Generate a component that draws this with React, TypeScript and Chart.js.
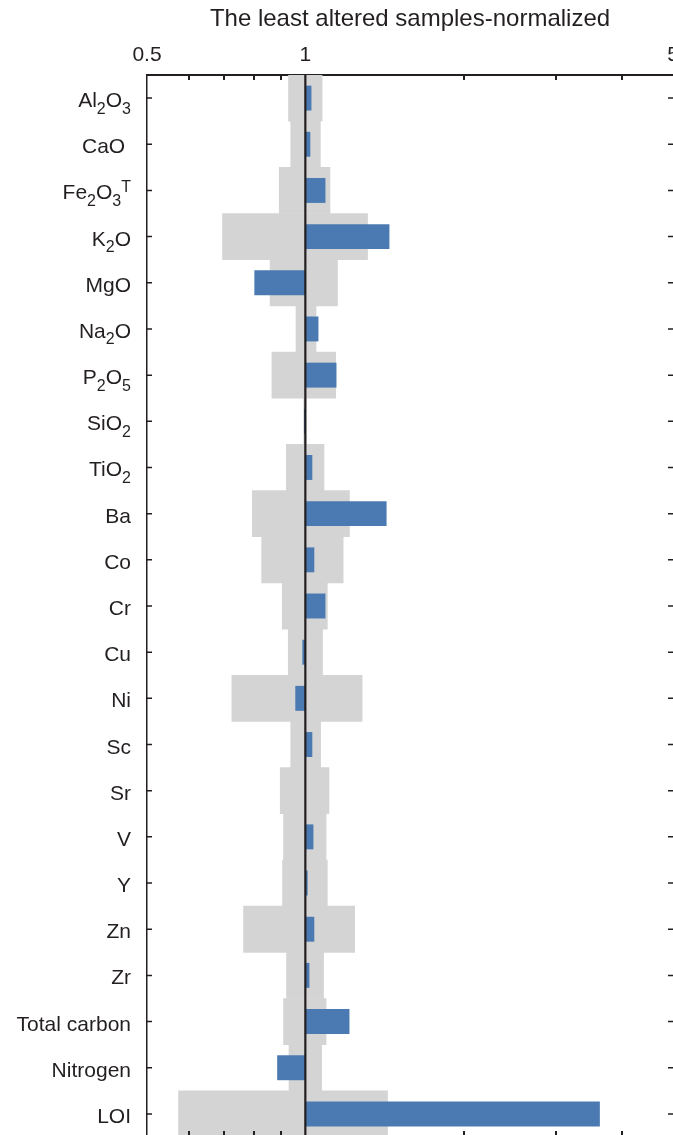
import React, { useEffect, useRef } from "react";
import { Chart, registerables } from "chart.js";

Chart.register(...registerables);

// ---------- data ----------
const categories = [
  "Al₂O₃", "CaO ", "Fe₂O₃ᵀ", "K₂O", "MgO", "Na₂O", "P₂O₅", "SiO₂", "TiO₂",
  "Ba", "Co", "Cr", "Cu", "Ni", "Sc", "Sr", "V", "Y", "Zn", "Zr",
  "Total carbon", "Nitrogen", "LOI",
];

// grey band: range of the least altered samples (normalized)
const rangeMin = [
  0.929, 0.938, 0.892, 0.696, 0.857, 0.960, 0.864, 0.993, 0.920,
  0.793, 0.826, 0.904, 0.928, 0.725, 0.938, 0.896, 0.909, 0.905, 0.763, 0.921,
  0.909, 0.931, 0.574,
];
const rangeMax = [
  1.076, 1.068, 1.114, 1.313, 1.151, 1.048, 1.142, 1.004, 1.085,
  1.213, 1.180, 1.101, 1.078, 1.282, 1.069, 1.109, 1.095, 1.101, 1.241, 1.083,
  1.095, 1.074, 1.433,
];

// blue bar: normalized value of the altered sample
const normalized = [
  1.027, 1.022, 1.092, 1.445, 0.800, 1.059, 1.146, 0.994, 1.031,
  1.427, 1.040, 1.092, 0.987, 0.957, 1.031, 1.000, 1.036, 1.010, 1.040, 1.018,
  1.213, 0.884, 3.63,
];

const majorTicks = [0.5, 1, 5];
const minorTicks = [0.6, 0.7, 0.8, 0.9, 2, 3, 4];
const axisTitle = "The least altered samples-normalized";

// ---------- styling ----------
const FONT = "'Liberation Sans', Arial, Helvetica, sans-serif";
const INK = "#231f20";
const GREY = "#d4d4d4";
const BLUE = "#4a7ab1";

const SUB: Record<string, string> = {
  "₀": "0", "₁": "1", "₂": "2", "₃": "3", "₄": "4",
  "₅": "5", "₆": "6", "₇": "7", "₈": "8", "₉": "9",
};

function drawRichLabel(ctx: CanvasRenderingContext2D, text: string, xRight: number, baseline: number) {
  const runs: { kind: string; text: string; w?: number }[] = [];
  for (const ch of text) {
    let kind = "n";
    let c = ch;
    if (SUB[ch]) { kind = "sub"; c = SUB[ch]; }
    else if (ch === "ᵀ") { kind = "sup"; c = "T"; }
    const last = runs[runs.length - 1];
    if (last && last.kind === kind) last.text += c;
    else runs.push({ kind, text: c });
  }
  const fontFor = (k: string) => (k === "n" ? `21px ${FONT}` : `16px ${FONT}`);
  const dy = (k: string) => (k === "sub" ? 6.5 : k === "sup" ? -7 : 0);
  let total = 0;
  for (const r of runs) {
    ctx.font = fontFor(r.kind);
    r.w = ctx.measureText(r.text).width;
    total += r.w;
  }
  let x = xRight - total;
  ctx.textAlign = "left";
  ctx.textBaseline = "alphabetic";
  ctx.fillStyle = INK;
  for (const r of runs) {
    ctx.font = fontFor(r.kind);
    ctx.fillText(r.text, x, baseline + dy(r.kind));
    x += r.w || 0;
  }
}

const framePlugin = {
  id: "frameDecor",
  afterDatasetsDraw(chart: any) {
    const { ctx, chartArea: a, scales } = chart;
    const x1 = scales.x.getPixelForValue(1);
    ctx.save();
    ctx.strokeStyle = INK;
    ctx.lineWidth = 2.2;
    ctx.beginPath();
    ctx.moveTo(x1, a.top);
    ctx.lineTo(x1, a.bottom);
    ctx.stroke();
    ctx.restore();
  },
  afterDraw(chart: any) {
    const { ctx, chartArea: a, scales } = chart;
    const xs = scales.x;
    const ys = scales.y;
    ctx.save();
    ctx.strokeStyle = INK;
    ctx.lineWidth = 2;
    for (const v of minorTicks) {
      const px = Math.round(xs.getPixelForValue(v));
      ctx.beginPath();
      ctx.moveTo(px, a.top);
      ctx.lineTo(px, a.top + 5);
      ctx.moveTo(px, a.bottom);
      ctx.lineTo(px, a.bottom - 6);
      ctx.stroke();
    }
    ctx.lineWidth = 1.5;
    categories.forEach((c, i) => {
      const py = ys.getPixelForValue(i);
      ctx.beginPath();
      ctx.moveTo(a.left, py);
      ctx.lineTo(a.left + 5, py);
      ctx.moveTo(a.right, py);
      ctx.lineTo(a.right - 5, py);
      ctx.stroke();
      drawRichLabel(ctx, c, 131, py + 9);
    });
    ctx.restore();
  },
};

export default function App() {
  const ref = useRef<HTMLCanvasElement | null>(null);

  useEffect(() => {
    if (!ref.current) return;
    const chart = new Chart(ref.current, {
      type: "bar",
      data: {
        labels: categories,
        datasets: [
          {
            label: "Normalized",
            data: normalized.map((v) => [1, v]),
            backgroundColor: BLUE,
            borderWidth: 0,
            barPercentage: 0.54,
            categoryPercentage: 1,
            grouped: false,
            order: 0,
          } as any,
          {
            label: "Least altered range",
            data: rangeMin.map((v, i) => [v, rangeMax[i]]),
            backgroundColor: GREY,
            borderWidth: 0,
            barPercentage: 1,
            categoryPercentage: 1,
            grouped: false,
            order: 1,
          } as any,
        ],
      },
      options: {
        indexAxis: "y",
        responsive: false,
        animation: false,
        layout: { padding: { top: 0, right: 17, bottom: 3, left: 0 } },
        plugins: {
          legend: { display: false },
          tooltip: { enabled: false },
          title: { display: false },
        },
        scales: {
          x: {
            type: "logarithmic",
            position: "top",
            min: 0.5,
            max: 5,
            afterBuildTicks: (s: any) => {
              s.ticks = majorTicks.map((v) => ({ value: v }));
            },
            afterFit: (s: any) => {
              s.height = 75;
            },
            ticks: {
              callback: (v: any) => String(v),
              font: { family: FONT, size: 21 },
              color: INK,
              padding: 7,
              maxRotation: 0,
              autoSkip: false,
            },
            grid: { display: false, drawTicks: false },
            border: { display: true, color: INK, width: 2 },
            title: {
              display: true,
              text: axisTitle,
              font: { family: FONT, size: 24 },
              color: INK,
              padding: { top: 5, bottom: 0 },
            },
          } as any,
          y: {
            type: "category",
            position: "left",
            offset: true,
            afterFit: (s: any) => {
              s.width = 147;
            },
            ticks: { display: false },
            grid: { display: false, drawTicks: false },
            border: { display: true, color: INK, width: 1.5 },
          } as any,
        },
      } as any,
      plugins: [framePlugin],
    });
    return () => chart.destroy();
  }, []);

  return (
    <div
      style={{
        position: "absolute",
        left: 0,
        top: 0,
        width: 673,
        height: 1135,
        overflow: "hidden",
        background: "#fff",
      }}
    >
      <canvas ref={ref} width={690} height={1140} style={{ display: "block" }} />
    </div>
  );
}
